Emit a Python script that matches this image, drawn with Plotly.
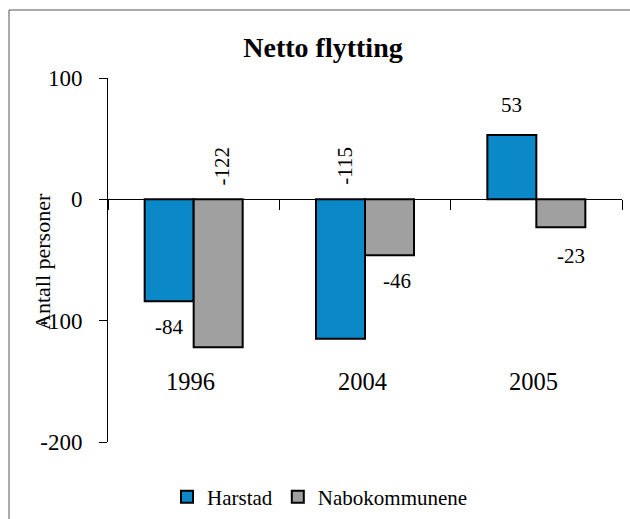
import plotly.graph_objects as go

# ---- data ----
years = ["1996", "2004", "2005"]
harstad = [-84, -115, 53]
nabokommunene = [-122, -46, -23]
series_names = ["Harstad", "Nabokommunene"]
y_ticks = [-200, -100, 0, 100]
y_tick_labels = ["-200", "-100", "0", "100"]

FONT = "Liberation Serif"
BLUE = "#0a88c8"
GREY = "#a0a0a0"

W, H = 630, 519
L, R, T, B = 108, 8, 78, 77
pw = W - L - R
ph = H - T - B

xi = list(range(len(years)))
bargap = 0.428
half = (1 - bargap) / 4  # half of one bar width in data units

fig = go.Figure()
fig.add_trace(go.Bar(x=xi, y=harstad, name=series_names[0],
                     marker=dict(color=BLUE, line=dict(color="black", width=2))))
fig.add_trace(go.Bar(x=xi, y=nabokommunene, name=series_names[1],
                     marker=dict(color=GREY, line=dict(color="black", width=2))))

ann = []
# label placement (xshift, yshift, angle) per series/category
place = {
    (0, 0): (0, -26, 0), (0, 1): (5, None, -90), (0, 2): (0, 30, 0),
    (1, 0): (4, None, -90), (1, 1): (7, -26, 0), (1, 2): (10, -29, 0),
}
for s, vals in enumerate([harstad, nabokommunene]):
    off = -half if s == 0 else half
    for i, v in enumerate(vals):
        xs, ys, ang = place[(s, i)]
        if ang == -90:
            ann.append(dict(x=i + off, y=0, text=str(v), showarrow=False, textangle=-90,
                            xshift=xs, yshift=33, font=dict(family=FONT, size=21, color="black")))
        else:
            ann.append(dict(x=i + off, y=v, text=str(v), showarrow=False,
                            xshift=xs, yshift=ys, font=dict(family=FONT, size=21, color="black")))

# category labels
for i, yr in enumerate(years):
    ann.append(dict(x=i, y=-150, text=yr, showarrow=False, xshift=-3, yshift=0,
                    font=dict(family=FONT, size=24.5, color="black")))

# y axis title
ann.append(dict(xref="paper", yref="paper", x=(42 - L) / pw, y=(H - B - 262) / ph,
                xanchor="center", yanchor="middle",
                text="Antall personer", showarrow=False, textangle=-90,
                font=dict(family=FONT, size=22, color="black")))

shapes = [dict(type="rect", xref="paper", yref="paper",
               x0=(9 - L) / pw, x1=(660 - L) / pw,
               y0=(H - B - 560) / ph, y1=(H - B - 10) / ph,
               line=dict(color="#555555", width=1), fillcolor="rgba(0,0,0,0)", layer="below")]

fig.update_layout(
    width=W, height=H,
    margin=dict(l=L, r=R, t=T, b=B, autoexpand=False),
    paper_bgcolor="white", plot_bgcolor="white",
    barmode="group", bargap=bargap, bargroupgap=0,
    title=dict(text="<b>Netto flytting</b>", x=323 / W, xanchor="center",
               y=1 - 47 / H, yanchor="middle", yref="container",
               font=dict(family=FONT, size=28, color="black")),
    xaxis=dict(range=[-0.5, 2.5], anchor="free", position=2 / 3,
               showline=True, linecolor="black", linewidth=1,
               ticks="outside", ticklen=10, tickcolor="black",
               tickvals=[-0.5, 0.5, 1.5, 2.5], showticklabels=False,
               showgrid=False, zeroline=False),
    yaxis=dict(range=[-200, 100], tickvals=y_ticks, ticktext=y_tick_labels,
               showline=True, linecolor="black",
               linewidth=1, ticks="outside", ticklen=8, tickcolor="black",
               showgrid=False, zeroline=False, ticklabelstandoff=12,
               tickfont=dict(family=FONT, size=23, color="black")),
    legend=dict(orientation="h", x=(320 - L) / pw, xanchor="center",
                y=(H - B - 497) / ph, yanchor="middle",
                font=dict(family=FONT, size=21, color="black"),
                itemwidth=30, traceorder="normal"),
    annotations=ann, shapes=shapes,
)

fig.write_html("out.html", config={"displayModeBar": False},
               post_script="document.body.style.margin='0';")
